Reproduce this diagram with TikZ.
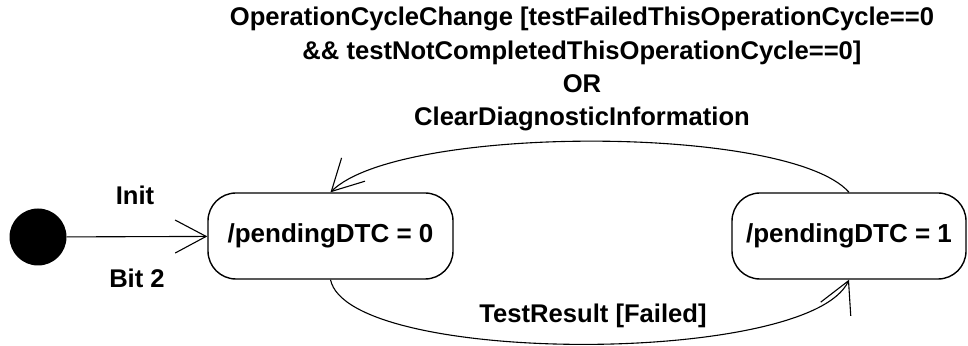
\documentclass[tikz,border=0pt]{standalone}
\usepackage{fontspec}
\setmainfont{Liberation Sans}
\usetikzlibrary{arrows.meta,calc}
\begin{document}
\begin{tikzpicture}[x=1pt,y=1pt,
  lab/.style={font=\bfseries\fontsize{25.6}{33.3}\selectfont, inner sep=0pt},
  statebox/.style={draw, line width=1.4pt, rounded corners=28pt, minimum width=245pt, minimum height=86pt, inner sep=0pt, font=\bfseries\fontsize{26}{30}\selectfont},
  trans/.style={line width=1.1pt, -{Straight Barb[length=31pt,width=33pt,line width=1.1pt]}}
]
\useasboundingbox (0,0) rectangle (968,345);
\node[circle, fill=black, minimum size=57pt, inner sep=0pt] (init) at (38,108) {};
\node[statebox] (s0) at (330.5,109) {/pendingDTC = 0};
\node[statebox, minimum width=234pt] (s1) at (849,109) {/pendingDTC = 1};
\draw[trans] (init) -- (s0);
\node[lab, anchor=base] (linit) at (135,140) {Init};
\node[lab, anchor=base] (lbit) at (137,57) {Bit 2};
\draw[trans] (s1.north) .. controls +(-60,68) and +(68,68) .. (s0.north);
\draw[trans] (s0.south) .. controls +(18,-86) and +(-39,-86) .. (s1.south);
\node[lab, anchor=base] (ltest) at (593,22) {TestResult [Failed]};
\node[lab, anchor=north, align=center] (ltop) at (582,338) {OperationCycleChange [testFailedThisOperationCycle==0\\ \&\& testNotCompletedThisOperationCycle==0]\\ OR\\ ClearDiagnosticInformation};
\end{tikzpicture}
\end{document}
